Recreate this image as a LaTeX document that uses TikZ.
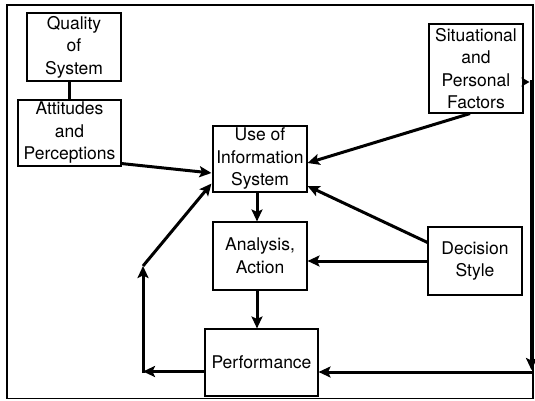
\documentclass[tikz,border=0pt]{standalone}
\usepackage{fontspec}
\setmainfont{TeX Gyre Heros}
\usetikzlibrary{arrows.meta,calc}
\begin{document}
\begin{tikzpicture}[x=1pt,y=-1pt,
  box/.style={draw, line width=1.1pt, inner sep=0pt, align=center, font=\fontsize{17.5}{22.5}\selectfont},
  arr/.style={line width=3pt, -{Stealth[length=12pt,width=11pt,inset=2.5pt]}},
  sarr/.style={line width=3pt, -{Stealth[length=8pt,width=9pt,inset=1.5pt]}},
  ln/.style={line width=3pt}]
\useasboundingbox (0,0) rectangle (535,401);
\draw[line width=1.3pt] (7,5) rectangle (533,398.5);
% boxes
\node[box, minimum width=94pt, minimum height=68pt] (q) at (74,47) {Quality\\of\\System};
\node[box, minimum width=103pt, minimum height=66pt] (att) at (69.5,133) {Attitudes\\and\\Perceptions};
\node[box, minimum width=94pt, minimum height=66pt] (use) at (260,159) {Use of\\Information\\System};
\node[box, minimum width=94pt, minimum height=89pt] (sit) at (476,68.5) {Situational\\and\\Personal\\Factors};
\node[box, minimum width=94pt, minimum height=68pt] (an) at (260,256) {Analysis,\\Action};
\node[box, minimum width=94pt, minimum height=68pt] (dec) at (475,261) {Decision\\Style};
\node[box, minimum width=113pt, minimum height=67pt] (perf) at (261.5,362.5) {Performance};
% connectors
\draw[ln] (att.north) -- (att.north |- q.south);
\draw[arr] ($(att.south east)+(0,-3)$) -- ($(use.west)+(-1,14)$);
\draw[arr] ($(sit.south)+(-6,0)$) -- ($(use.east)+(0,4)$);
\draw[arr] ($(dec.north west)+(0,16)$) -- ($(use.east)+(0,27)$);
\draw[arr] ($(use.south)+(-3,0)$) -- ($(an.north)+(-3,0)$);
\draw[arr] (dec.west) -- (an.east |- dec.west);
\draw[arr] ($(an.south)+(-3,0)$) -- ($(perf.north)+(-4.5,0)$);
% left feedback loop
\coordinate (L1) at (143,371.5);
\coordinate (L2) at (143,266);
\draw[arr] ($(perf.west)+(0,9)$) -- (L1);
\draw[ln] ($(L1)+(0,1.5)$) -- ($(L1)+(0,-8)$);
\draw[arr] ($(L1)+(0,-1)$) -- (L2);
\draw[arr] (L2) -- ($(use.south west)+(-1,-9)$);
% right connector
\coordinate (R1) at (531.5,82);
\coordinate (R2) at (531.5,370);
\coordinate (R3) at (533,372);
\draw[sarr] ($(sit.east)+(0,13.5)$) -- ($(R1)+(-2,0)$);
\draw[arr] ($(R1)+(0,-1.5)$) -- (R2);
\draw[arr] (R3) -- ($(perf.east)+(0,9.5)$);
\end{tikzpicture}
\end{document}
